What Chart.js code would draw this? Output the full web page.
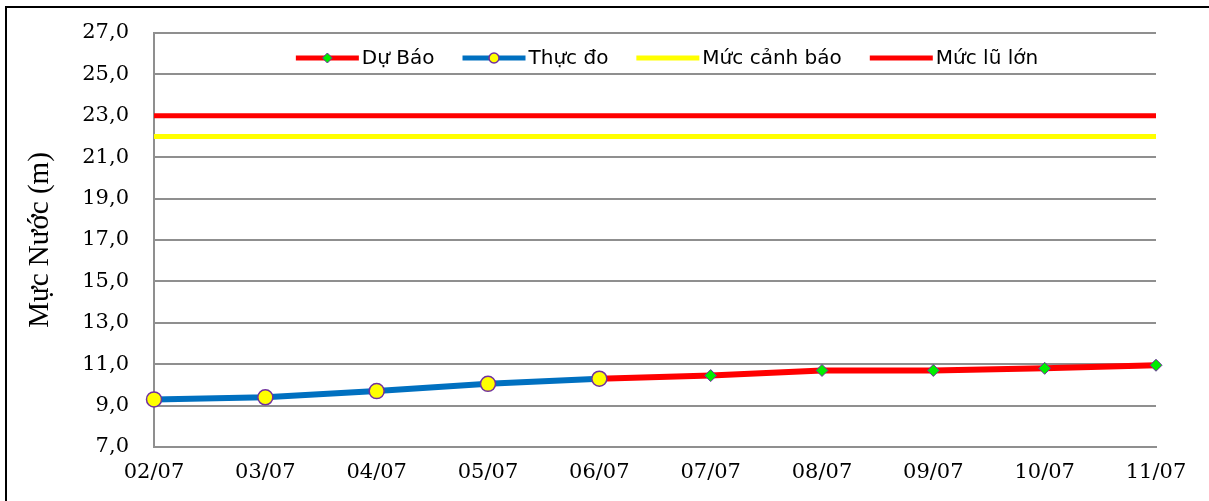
<!DOCTYPE html>
<html>
<head>
<meta charset="utf-8">
<script src="https://cdn.jsdelivr.net/npm/chart.js@4.4.0/dist/chart.umd.min.js"></script>
<style>
  html, body { margin: 0; padding: 0; background: #fff; }
</style>
</head>
<body>
<canvas id="chart" width="1209" height="501"></canvas>
<script>
// data
const days = ['02/07', '03/07', '04/07', '05/07', '06/07', '07/07', '08/07', '09/07', '10/07', '11/07'];
const observed = [9.3, 9.4, 9.7, 10.05, 10.3, null, null, null, null, null];
const forecast = [null, null, null, null, 10.3, 10.45, 10.7, 10.7, 10.8, 10.95];
const warningLevel = [22, 22, 22, 22, 22, 22, 22, 22, 22, 22];
const majorFloodLevel = [23, 23, 23, 23, 23, 23, 23, 23, 23, 23];
const yMin = 7, yMax = 27, yStep = 2;
const legendNames = ['Dự Báo', 'Thực đo', 'Mức cảnh báo', 'Mức lũ lớn'];

const RED = '#ff0000', BLUE = '#0070c0', YELLOW = '#ffff00', PURPLE = '#7030a0', GREEN = '#00ee00';
const GRID = '#8f8f8f';

// outer frame (only left/top edges are visible in the picture)
const framePlugin = {
  id: 'frame',
  beforeDraw(chart) {
    const ctx = chart.ctx;
    ctx.save();
    ctx.fillStyle = '#fff';
    ctx.fillRect(0, 0, chart.width, chart.height);
    ctx.fillStyle = '#000';
    ctx.fillRect(5, 6, 2, chart.height);
    ctx.fillRect(5, 6, chart.width, 2);
    ctx.restore();
  }
};

// legend drawn inside the plot, Excel style (line sample + marker)
const legendPlugin = {
  id: 'excelLegend',
  afterDraw(chart) {
    const ctx = chart.ctx;
    ctx.save();
    ctx.font = '20px "DejaVu Sans"';
    const sample = 63, gapText = 3, gapItem = 28;
    const widths = legendNames.map(n => ctx.measureText(n).width);
    let total = 0;
    widths.forEach((w, i) => { total += sample + gapText + w + (i < widths.length - 1 ? gapItem : 0); });
    let x = 667 - total / 2;
    const y = 58;
    const colors = [RED, BLUE, YELLOW, RED];
    legendNames.forEach((name, i) => {
      ctx.strokeStyle = colors[i];
      ctx.lineWidth = 5;
      ctx.beginPath();
      ctx.moveTo(x, y);
      ctx.lineTo(x + sample, y);
      ctx.stroke();
      const cx = x + sample / 2;
      if (i === 0) {
        ctx.fillStyle = GREEN;
        ctx.strokeStyle = PURPLE;
        ctx.lineWidth = 1;
        ctx.beginPath();
        ctx.moveTo(cx, y - 5); ctx.lineTo(cx + 5, y); ctx.lineTo(cx, y + 5); ctx.lineTo(cx - 5, y);
        ctx.closePath();
        ctx.fill(); ctx.stroke();
      } else if (i === 1) {
        ctx.fillStyle = YELLOW;
        ctx.strokeStyle = PURPLE;
        ctx.lineWidth = 1.5;
        ctx.beginPath();
        ctx.arc(cx, y, 5, 0, Math.PI * 2);
        ctx.fill(); ctx.stroke();
      }
      ctx.fillStyle = '#000';
      ctx.textBaseline = 'middle';
      ctx.fillText(name, x + sample + gapText, y + 1);
      x += sample + gapText + widths[i] + gapItem;
    });
    ctx.restore();
  }
};

new Chart(document.getElementById('chart'), {
  type: 'line',
  data: {
    labels: days,
    datasets: [
      {
        label: legendNames[0],
        data: forecast,
        borderColor: RED,
        borderWidth: 6,
        pointStyle: 'rectRot',
        pointRadius: forecast.map((v, i) => (observed[i] != null ? 0 : 6)),
        pointBackgroundColor: GREEN,
        pointBorderColor: PURPLE,
        pointBorderWidth: 1,
        tension: 0,
        order: 1
      },
      {
        label: legendNames[1],
        data: observed,
        borderColor: BLUE,
        borderWidth: 6,
        pointStyle: 'circle',
        pointRadius: 7.5,
        pointBackgroundColor: YELLOW,
        pointBorderColor: PURPLE,
        pointBorderWidth: 1.5,
        tension: 0,
        order: 0
      },
      {
        label: legendNames[2],
        data: warningLevel,
        borderColor: YELLOW,
        borderWidth: 5,
        pointRadius: 0,
        order: 2
      },
      {
        label: legendNames[3],
        data: majorFloodLevel,
        borderColor: RED,
        borderWidth: 5,
        pointRadius: 0,
        order: 2
      }
    ]
  },
  options: {
    responsive: false,
    animation: false,
    events: [],
    layout: { padding: { left: 0, right: 53, top: 33, bottom: 0 } },
    plugins: {
      legend: { display: false },
      tooltip: { enabled: false }
    },
    scales: {
      x: {
        offset: false,
        grid: { display: false, drawTicks: false },
        border: { display: true, color: GRID, width: 2 },
        ticks: {
          autoSkip: false,
          maxRotation: 0,
          padding: 13,
          color: '#000',
          font: { family: '"DejaVu Serif"', size: 21 }
        },
        afterFit(s) { s.height = 54; }
      },
      y: {
        min: yMin,
        max: yMax,
        grid: { color: GRID, lineWidth: 2, drawTicks: false },
        border: { display: true, color: GRID, width: 2 },
        ticks: {
          stepSize: yStep,
          padding: 25,
          color: '#000',
          font: { family: '"DejaVu Serif"', size: 21 },
          callback: v => v.toFixed(1).replace('.', ',')
        },
        title: {
          display: true,
          text: 'Mực Nước (m)',
          color: '#000',
          font: { family: '"Liberation Serif"', size: 29 },
          padding: { top: 23, bottom: 0 }
        },
        afterFit(s) {
          s.width = 154;
          s.paddingTop = 12;
          s.paddingBottom = 12;
        }
      }
    }
  },
  plugins: [framePlugin, legendPlugin]
});
</script>
</body>
</html>
